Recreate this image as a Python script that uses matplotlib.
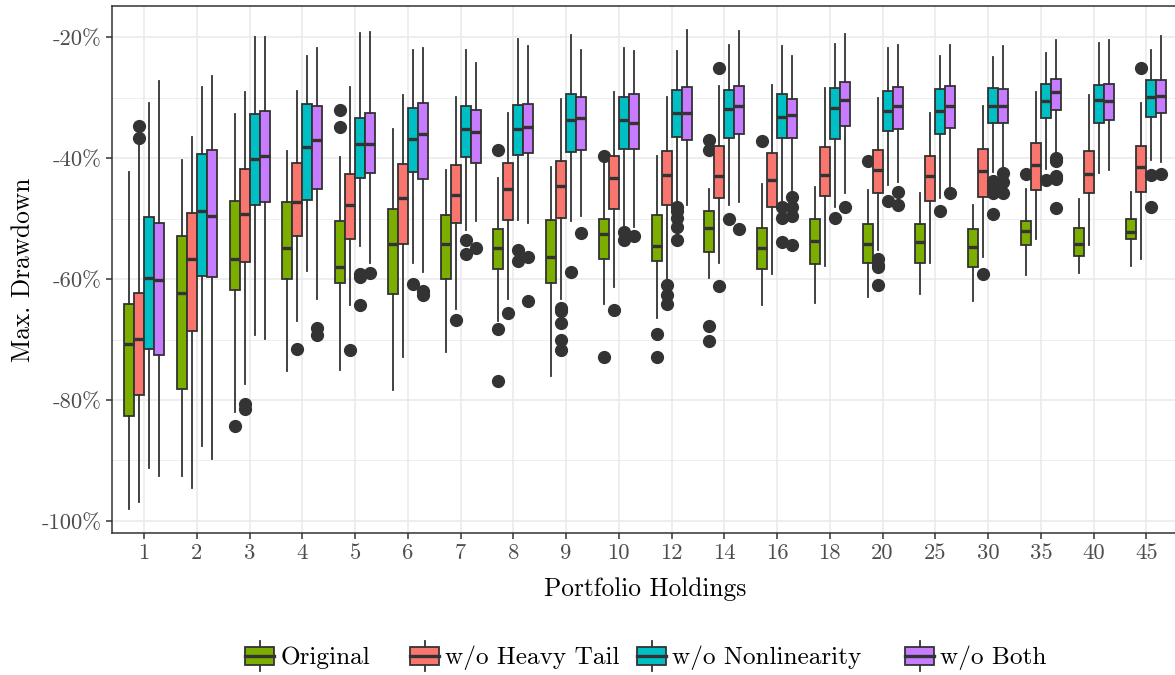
import numpy as np
import matplotlib
matplotlib.use("Agg")
import matplotlib.pyplot as plt
from matplotlib.patches import Rectangle, Patch
from matplotlib.lines import Line2D
from matplotlib.legend_handler import HandlerBase

plt.rcParams['font.family'] = ['cmr10', 'DejaVu Serif']
plt.rcParams['axes.unicode_minus'] = False
plt.rcParams['axes.formatter.use_mathtext'] = True

holdings = [1, 2, 3, 4, 5, 6, 7, 8, 9, 10, 12, 14, 16, 18, 20, 25, 30, 35, 40, 45]
series = ["Original", "w/o Heavy Tail", "w/o Nonlinearity", "w/o Both"]
colors = ["#7CAE00", "#F8766D", "#00BFC4", "#C77CFF"]

# (lower whisker, q1, median, q3, upper whisker) in %, one row per holding
original = [
    (-98.1, -82.7, -70.7, -64.1, -42.2), (-92.5, -78.2, -62.3, -52.8, -40.2),
    (-81.9, -61.8, -56.7, -47.1, -32.6), (-75.2, -59.9, -54.8, -47.2, -38.8),
    (-75.0, -60.7, -58.0, -50.4, -39.8), (-78.4, -62.5, -54.1, -48.4, -35.1),
    (-72.0, -59.9, -54.2, -49.4, -42.0), (-67.0, -58.3, -54.9, -51.7, -43.3),
    (-76.0, -60.6, -56.3, -50.2, -41.4), (-64.1, -56.6, -52.6, -50.0, -40.4),
    (-66.5, -57.0, -54.5, -49.3, -39.7), (-59.8, -55.5, -51.5, -48.8, -45.1),
    (-64.3, -58.4, -54.9, -51.5, -44.2), (-64.0, -57.5, -53.7, -50.1, -44.7),
    (-63.0, -57.3, -54.1, -50.9, -45.2), (-62.5, -57.4, -53.9, -50.9, -45.7),
    (-63.6, -58.0, -54.7, -51.7, -47.7), (-59.3, -54.3, -52.0, -50.3, -45.1),
    (-58.9, -56.1, -54.2, -51.6, -46.8), (-57.9, -53.4, -52.2, -50.1, -45.6),
]
no_heavy_tail = [
    (-96.9, -79.1, -69.9, -62.3, -37.3), (-94.6, -68.5, -56.7, -49.1, -36.5),
    (-77.4, -57.2, -49.2, -41.7, -29.1), (-66.9, -52.8, -47.2, -40.8, -28.9),
    (-64.2, -53.4, -47.7, -42.6, -28.2), (-72.8, -54.2, -46.6, -41.0, -29.6),
    (-65.0, -50.7, -46.1, -41.1, -29.9), (-63.2, -50.2, -45.1, -40.8, -32.5),
    (-63.3, -49.9, -44.6, -40.5, -30.2), (-61.3, -48.4, -43.3, -39.6, -29.1),
    (-60.2, -47.7, -42.8, -38.8, -29.9), (-57.3, -46.5, -42.9, -37.9, -28.1),
    (-59.2, -48.1, -43.6, -39.1, -27.8), (-57.9, -46.3, -42.8, -38.1, -28.3),
    (-55.2, -45.7, -42.0, -38.7, -30.1), (-57.3, -47.1, -42.9, -39.7, -32.5),
    (-56.3, -46.4, -42.1, -38.5, -31.3), (-53.4, -45.3, -41.1, -37.5, -29.1),
    (-54.3, -45.8, -42.6, -38.8, -29.5), (-56.6, -45.5, -41.4, -37.9, -30.9),
]
no_nonlinearity = [
    (-91.3, -71.5, -59.8, -49.7, -30.8), (-87.6, -59.4, -48.8, -39.3, -28.2),
    (-69.2, -47.7, -40.1, -32.6, -19.9), (-58.7, -46.9, -38.2, -31.0, -23.1),
    (-54.5, -43.2, -37.6, -33.4, -19.2), (-57.4, -42.2, -36.8, -31.6, -22.0),
    (-51.8, -39.8, -35.1, -31.3, -22.0), (-50.2, -39.4, -35.1, -31.1, -20.3),
    (-50.3, -39.0, -33.6, -29.3, -19.6), (-51.4, -38.4, -33.6, -29.8, -21.7),
    (-47.7, -36.5, -32.5, -28.7, -22.2), (-47.8, -36.6, -31.9, -28.7, -21.3),
    (-47.4, -36.6, -33.1, -29.3, -21.5), (-48.0, -36.8, -31.6, -28.3, -21.1),
    (-44.5, -35.5, -32.1, -28.8, -21.7), (-46.5, -35.9, -32.2, -28.5, -23.0),
    (-42.2, -34.2, -31.3, -28.3, -23.2), (-41.8, -33.3, -30.6, -27.7, -22.6),
    (-42.5, -34.1, -30.4, -27.9, -21.0), (-40.2, -33.1, -29.8, -27.1, -22.1),
]
no_both = [
    (-92.6, -72.6, -60.2, -50.7, -27.2), (-89.7, -59.7, -49.6, -38.6, -26.3),
    (-69.9, -47.2, -39.7, -32.1, -20.0), (-63.3, -45.1, -37.0, -31.3, -21.7),
    (-57.4, -42.5, -37.6, -32.5, -19.1), (-58.8, -43.4, -36.0, -30.9, -21.7),
    (-50.4, -40.8, -35.6, -32.0, -24.2), (-50.7, -39.1, -34.8, -31.0, -21.5),
    (-49.6, -38.7, -33.3, -29.8, -22.1), (-51.4, -38.4, -34.1, -29.4, -22.3),
    (-47.8, -37.0, -32.5, -28.2, -18.7), (-47.2, -36.0, -31.3, -28.1, -18.9),
    (-45.3, -36.6, -32.8, -30.2, -23.1), (-45.7, -34.7, -30.3, -27.3, -19.5),
    (-44.0, -35.1, -31.3, -28.2, -21.2), (-44.9, -35.0, -31.3, -28.1, -21.3),
    (-41.8, -34.1, -31.3, -28.5, -21.5), (-39.3, -32.0, -29.1, -26.8, -20.5),
    (-42.0, -33.6, -30.6, -27.7, -20.4), (-40.6, -32.5, -29.7, -27.0, -19.7),
]

# outliers by holding
original_out = {3: [-84.3], 5: [-32.0, -34.9], 8: [-38.7, -68.3, -76.8],
                10: [-39.7, -72.9], 12: [-69.1, -72.9],
                14: [-36.9, -38.6, -67.7, -70.3], 16: [-37.2], 20: [-40.5],
                35: [-42.6]}
no_heavy_tail_out = {1: [-34.7, -36.6], 3: [-80.6, -81.5], 4: [-71.5],
                     5: [-71.7], 7: [-66.8], 8: [-65.6],
                     9: [-64.7, -65.3, -67.2, -70.1, -71.8], 10: [-65.1],
                     12: [-60.9, -62.7, -64.1], 14: [-25.0, -61.2],
                     20: [-56.7, -57.6, -58.0, -61.0], 30: [-59.2], 45: [-25.0]}
no_nonlinearity_out = {5: [-59.1, -59.7, -64.3], 6: [-60.8], 7: [-53.5, -55.8],
                       8: [-55.2, -57.0], 9: [-58.8], 10: [-52.2, -53.6],
                       12: [-48.0, -48.8, -49.8, -51.3, -53.5], 14: [-50.0],
                       16: [-48.1, -49.8, -53.8], 18: [-49.8], 20: [-47.0],
                       25: [-48.8], 30: [-43.7, -44.6, -45.3, -45.7, -49.2],
                       35: [-43.6], 45: [-42.8, -48.1]}
no_both_out = {4: [-68.0, -69.2], 5: [-58.9], 6: [-61.9, -62.6], 7: [-54.9],
               8: [-56.3, -63.6], 9: [-52.3], 10: [-52.8], 14: [-51.7],
               16: [-46.4, -48.1, -49.6, -54.4], 18: [-48.0], 20: [-45.5, -47.7],
               25: [-45.8], 30: [-42.5, -44.0, -45.7],
               35: [-40.0, -40.5, -42.9, -43.5, -48.3], 45: [-42.6]}

summaries = [original, no_heavy_tail, no_nonlinearity, no_both]
outliers = [original_out, no_heavy_tail_out, no_nonlinearity_out, no_both_out]

edge = "#333333"
offsets = [-0.285, -0.095, 0.095, 0.285]

fig = plt.figure(figsize=(11.75, 6.75), dpi=100)
ax = fig.add_axes([112.4 / 1175, 1 - 533 / 675, (1178 - 112.4) / 1175, (533 - 6) / 675])

for k in range(len(series)):
    stats = []
    for i, h in enumerate(holdings):
        lo, q1, med, q3, hi = summaries[k][i]
        stats.append(dict(whislo=lo, q1=q1, med=med, q3=q3, whishi=hi,
                          fliers=outliers[k].get(h, [])))
    pos = np.arange(1, len(holdings) + 1) + offsets[k]
    ax.bxp(stats, positions=pos, widths=0.19, patch_artist=True, showcaps=False,
           boxprops=dict(facecolor=colors[k], edgecolor=edge, linewidth=1.3),
           medianprops=dict(color=edge, linewidth=2.4, solid_capstyle='butt'),
           whiskerprops=dict(color=edge, linewidth=1.3),
           flierprops=dict(marker='o', markerfacecolor=edge, markeredgecolor=edge,
                           markersize=8.5))

ax.set_xlim(0.4, len(holdings) + 0.6)
ax.set_ylim(-102.0, -14.8)
ax.set_xticks(np.arange(1, len(holdings) + 1))
ax.set_xticklabels([str(h) for h in holdings])
yt = [-100, -80, -60, -40, -20]
ax.set_yticks(yt)
ax.set_yticklabels([f"{v}%" for v in yt])
ax.set_yticks([-90, -70, -50, -30], minor=True)
ax.set_xticks([], minor=True)

ax.set_axisbelow(True)
ax.grid(which='major', color='#EBEBEB', linewidth=1.2)
ax.grid(which='minor', axis='y', color='#EBEBEB', linewidth=0.6)
for s in ax.spines.values():
    s.set_color(edge)
    s.set_linewidth(1.1)
ax.tick_params(which='major', direction='out', length=4.5, width=1.1, color=edge,
               labelcolor='#4D4D4D', labelsize=16.3, pad=3)
ax.tick_params(which='minor', length=0)

ax.set_xlabel("Portfolio Holdings", fontsize=18.3, labelpad=10)
ax.set_ylabel("Max. Drawdown", fontsize=18.3, labelpad=5)


class BoxKey(HandlerBase):
    def create_artists(self, legend, orig_handle, xdescent, ydescent, width, height,
                       fontsize, trans):
        x0, y0 = -xdescent, -ydescent
        cx = x0 + width / 2
        bh = height * 0.62
        by = y0 + (height - bh) / 2
        whisk = Line2D([cx, cx], [y0, y0 + height], color=edge, lw=1.3, transform=trans)
        box = Rectangle((x0, by), width, bh, facecolor=orig_handle.get_facecolor(),
                        edgecolor=edge, lw=1.3, transform=trans)
        med = Line2D([x0, x0 + width], [y0 + height / 2] * 2, color=edge, lw=2.4,
                     transform=trans)
        return [whisk, box, med]


# one legend entry per series, placed at the reference key positions
key_left = [245, 410, 637, 905]
for k in range(len(series)):
    fig.legend([Patch(facecolor=colors[k])], [series[k]], loc='center left',
               bbox_to_anchor=(key_left[k] / 1175, 1 - 656 / 675),
               frameon=False, fontsize=18.2, handler_map={Patch: BoxKey()},
               handlelength=1.15, handleheight=1.45, handletextpad=0.25,
               borderpad=0, borderaxespad=0)

fig.savefig("out.png", dpi=100)
